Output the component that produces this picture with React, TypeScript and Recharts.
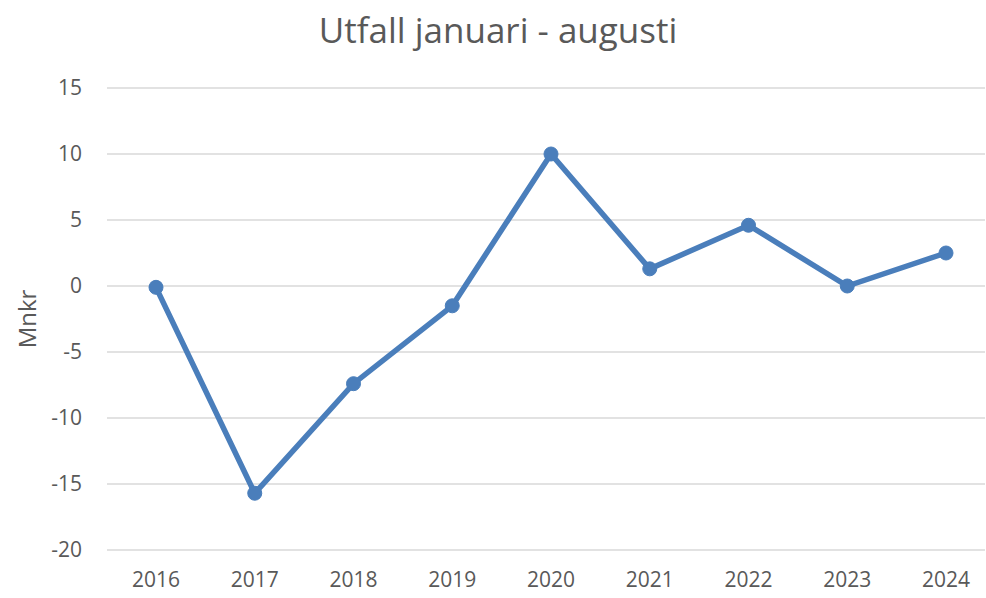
import React from "react";
import { LineChart, Line, XAxis, YAxis, CartesianGrid, Label } from "recharts";

const years = ["2016", "2017", "2018", "2019", "2020", "2021", "2022", "2023", "2024"];
const values = [-0.1, -15.7, -7.4, -1.5, 10.0, 1.3, 4.6, 0.0, 2.5];
const yTicks = [-20, -15, -10, -5, 0, 5, 10, 15];

const data = years.map((y, i) => ({ year: y, value: values[i] }));

const FONT = "'Open Sans', sans-serif";
const GRAY = "#595959";

export default function App() {
  return (
    <div style={{ position: "fixed", left: 0, top: 0, width: 986, height: 598, background: "#fff" }}>
      <div
        style={{
          position: "absolute",
          left: 0,
          top: 6,
          width: 996,
          textAlign: "center",
          fontFamily: FONT,
          fontSize: 35,
          color: GRAY,
          lineHeight: "48px",
        }}
      >
        Utfall januari - augusti
      </div>
      <LineChart width={986} height={598} data={data} margin={{ top: 88, right: 1, bottom: 18, left: 0 }}>
        <CartesianGrid vertical={false} stroke="#d9d9d9" strokeWidth={1.5} />
        <XAxis
          dataKey="year"
          axisLine={false}
          tickLine={false}
          tickSize={0}
          tickMargin={22}
          height={30}
          padding={{ left: 49, right: 39 }}
          tick={{ fill: GRAY, fontSize: 21, fontFamily: FONT }}
          interval={0}
        />
        <YAxis
          width={107}
          domain={[-20, 15]}
          ticks={yTicks}
          axisLine={false}
          tickLine={false}
          tickSize={0}
          tickMargin={25}
          tick={{ fill: GRAY, fontSize: 21, fontFamily: FONT }}
        >
          <Label
            value="Mnkr"
            angle={-90}
            position="insideLeft"
            offset={27}
            style={{ fill: GRAY, fontSize: 24, fontFamily: FONT, textAnchor: "middle" }}
          />
        </YAxis>
        <Line
          type="linear"
          dataKey="value"
          stroke="#4a7ebb"
          strokeWidth={5.5}
          dot={{ r: 7, fill: "#4a7ebb", stroke: "#4a7ebb", strokeWidth: 1 }}
          isAnimationActive={false}
        />
      </LineChart>
    </div>
  );
}
